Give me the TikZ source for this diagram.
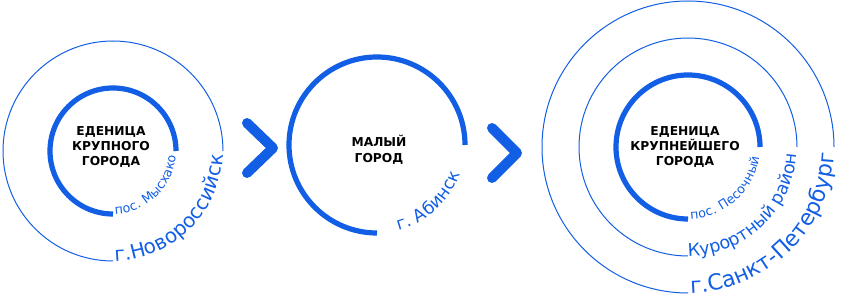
\documentclass[tikz,border=0pt]{standalone}
\usepackage{fontspec}
\setmainfont{DejaVu Sans}
\usetikzlibrary{decorations.text}
\definecolor{cityblue}{RGB}{18,94,228}

\tikzset{
  ringtext/.style 2 args={decorate, decoration={text along path,
      text align={fit to path},
      text={|\fontsize{#1}{#1}\selectfont\color{cityblue}|#2}}}
}

\begin{document}
\begin{tikzpicture}[x=0.75pt,y=0.75pt,
  thickring/.style={line width=3.9pt, cityblue},
  thinring/.style={line width=0.75pt, cityblue},
  title/.style={align=center, font=\fontsize{9.2}{11.6}\selectfont\bfseries},
  chevron/.style={line width=7.5pt, cityblue, line cap=round, line join=round}]

\useasboundingbox (0,0) rectangle (841,303);

\coordinate (big) at (113,152);
\coordinate (small) at (377,158);
\coordinate (huge) at (688,156);

% big city
\draw [thickring] (big) ++(0:63) arc [start angle=0, end angle=270, radius=63];
\draw [thinring] (big) ++(0:110) arc [start angle=0, end angle=270, radius=110];
\node [title] (bigname) at (111,156) {ЕДЕНИЦА\\КРУПНОГО\\ГОРОДА};
\path [ringtext={9.5}{пос. Мысхако}] (big) ++(-88:63) arc [start angle=-88, end angle=-4, radius=63];
\path [ringtext={15}{г.Новороссийск}] (big) ++(-89:110) arc [start angle=-89, end angle=-2, radius=110];

\draw [chevron] (247,180) -- (273,155) -- (247,130);

% small town
\draw [thickring] (small) ++(0:88) arc [start angle=0, end angle=270, radius=88];
\node [title] (smallname) at (379,153) {МАЛЫЙ\\ГОРОД};
\path [ringtext={13}{г. Абинск}] (small) ++(-76:88) arc [start angle=-76, end angle=-19, radius=88];

\draw [chevron] (492,175) -- (517,150) -- (492,125);

% largest city
\draw [thickring] (huge) ++(0:72) arc [start angle=0, end angle=270, radius=72];
\draw [thinring] (huge) ++(0:109) arc [start angle=0, end angle=270, radius=109];
\draw [thinring] (huge) ++(0:146) arc [start angle=0, end angle=270, radius=146];
\node [title] (hugename) at (685,156) {ЕДЕНИЦА\\КРУПНЕЙШЕГО\\ГОРОДА};
\path [ringtext={9.5}{пос. Песочный}] (huge) ++(-88:72) arc [start angle=-88, end angle=-8, radius=72];
\path [ringtext={13.2}{Курортный район}] (huge) ++(-90:109) arc [start angle=-90, end angle=-4, radius=109];
\path [ringtext={16.5}{г.Санкт-Петербург}] (huge) ++(-89:146) arc [start angle=-89, end angle=-2.5, radius=146];

\end{tikzpicture}
\end{document}
